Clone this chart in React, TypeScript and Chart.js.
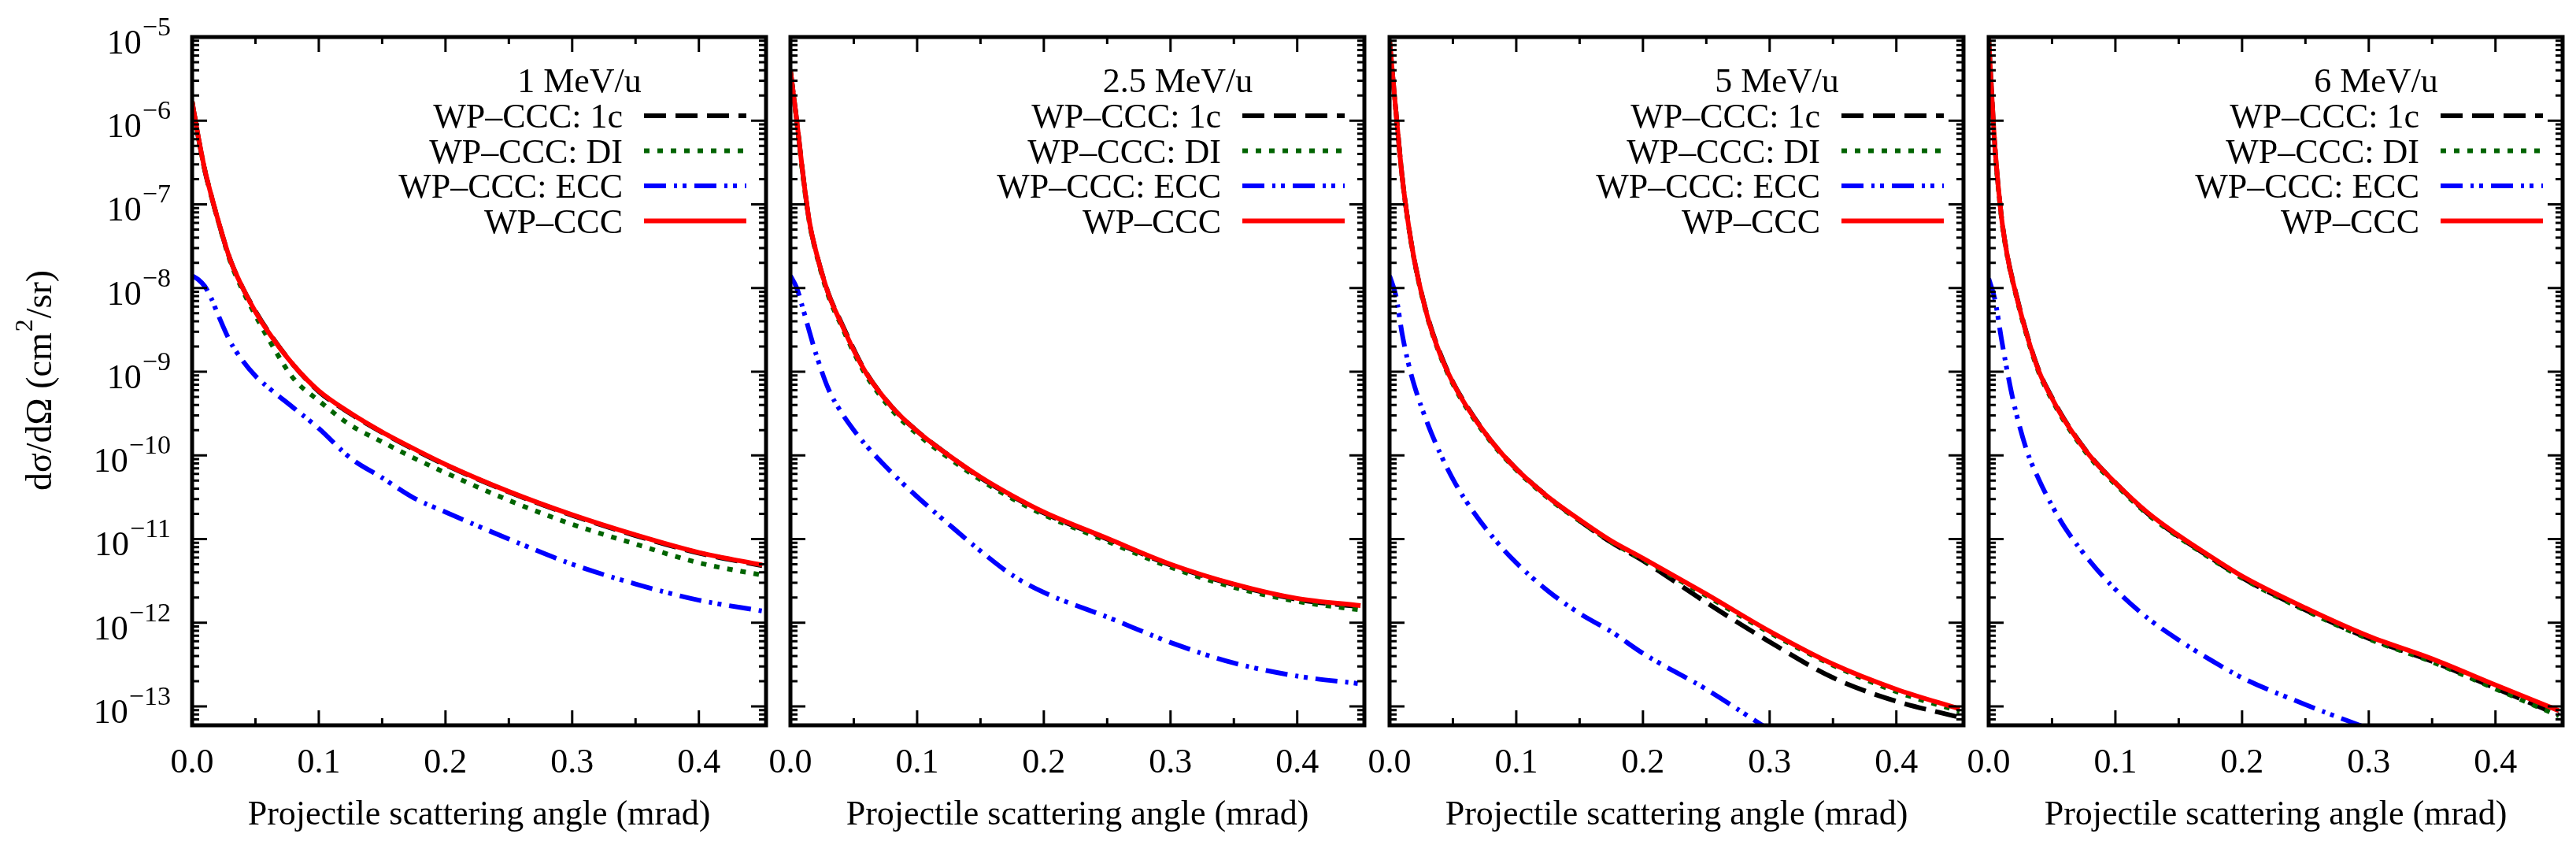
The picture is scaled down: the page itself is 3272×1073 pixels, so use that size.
import React, { useEffect, useRef } from 'react';
import { Chart, registerables } from 'chart.js';
import type { Plugin } from 'chart.js';

Chart.register(...registerables);

const angles = [0, 0.005, 0.01, 0.015, 0.02, 0.03, 0.04, 0.05, 0.06, 0.08, 0.1, 0.125, 0.15, 0.175, 0.2, 0.25, 0.3, 0.35, 0.4, 0.45];

const energies = ['1 MeV/u', '2.5 MeV/u', '5 MeV/u', '6 MeV/u'];
const seriesNames = ['WP\u2013CCC: 1c', 'WP\u2013CCC: DI', 'WP\u2013CCC: ECC', 'WP\u2013CCC'];

const xTicks = [0, 0.1, 0.2, 0.3, 0.4];
const xTickLabels = ['0.0', '0.1', '0.2', '0.3', '0.4'];
const yExponents = [-5, -6, -7, -8, -9, -10, -11, -12, -13];

// 1 MeV/u
const oneC1 = [1.7e-6, 6.2e-7, 2.55e-7, 1.28e-7, 6.8e-8, 2.2e-8, 1.0e-8, 5.3e-9, 3.05e-9, 1.2e-9, 5.8e-10, 3.15e-10, 1.88e-10, 1.18e-10, 7.7e-11, 3.65e-11, 1.92e-11, 1.1e-11, 6.8e-12, 4.8e-12];
const di1 = [1.7e-6, 6.2e-7, 2.6e-7, 1.3e-7, 6.8e-8, 2.1e-8, 9.3e-9, 4.7e-9, 2.5e-9, 8.3e-10, 4.5e-10, 2.3e-10, 1.45e-10, 9.3e-11, 6.2e-11, 2.9e-11, 1.5e-11, 8.7e-12, 5.2e-12, 3.7e-12];
const ecc1 = [1.4e-8, 1.26e-8, 1.05e-8, 7.6e-9, 5.0e-9, 2.3e-9, 1.35e-9, 8.9e-10, 6.5e-10, 3.7e-10, 2.1e-10, 9.3e-11, 5.4e-11, 3.1e-11, 2.1e-11, 1.0e-11, 5.0e-12, 2.9e-12, 1.86e-12, 1.38e-12];
const total1 = [1.7e-6, 6.3e-7, 2.6e-7, 1.3e-7, 6.9e-8, 2.2e-8, 1.0e-8, 5.2e-9, 3.0e-9, 1.2e-9, 5.9e-10, 3.2e-10, 1.9e-10, 1.2e-10, 7.8e-11, 3.7e-11, 1.95e-11, 1.12e-11, 6.9e-12, 4.9e-12];

// 2.5 MeV/u
const oneC2 = [4.0e-6, 1.0e-6, 2.2e-7, 6.1e-8, 2.8e-8, 8.6e-9, 3.9e-9, 1.85e-9, 9.6e-10, 3.8e-10, 1.95e-10, 1.0e-10, 5.4e-11, 3.25e-11, 2.05e-11, 1.0e-11, 4.9e-12, 2.85e-12, 1.9e-12, 1.55e-12];
const di2 = [4.0e-6, 9.8e-7, 2.1e-7, 6.0e-8, 2.7e-8, 8.0e-9, 3.6e-9, 1.7e-9, 8.9e-10, 3.5e-10, 1.8e-10, 9.3e-11, 5.1e-11, 3.05e-11, 1.95e-11, 9.4e-12, 4.6e-12, 2.65e-12, 1.8e-12, 1.42e-12];
const ecc2 = [1.4e-8, 1.0e-8, 5.6e-9, 3.0e-9, 1.66e-9, 6.2e-10, 3.3e-10, 2.0e-10, 1.3e-10, 6.2e-11, 3.2e-11, 1.5e-11, 7.2e-12, 3.7e-12, 2.3e-12, 1.17e-12, 5.8e-13, 3.3e-13, 2.3e-13, 1.86e-13];
const total2 = [4.0e-6, 1.0e-6, 2.2e-7, 6.2e-8, 2.8e-8, 8.5e-9, 3.8e-9, 1.8e-9, 9.5e-10, 3.8e-10, 1.95e-10, 1.0e-10, 5.5e-11, 3.3e-11, 2.1e-11, 1.02e-11, 5.0e-12, 2.9e-12, 1.95e-12, 1.6e-12];

// 5 MeV/u
const oneC3 = [9.0e-6, 1.3e-6, 2.1e-7, 5.6e-8, 2.0e-8, 4.6e-9, 1.65e-9, 7.5e-10, 4.1e-10, 1.5e-10, 6.9e-11, 3.2e-11, 1.65e-11, 9.1e-12, 5.5e-12, 1.74e-12, 5.9e-13, 2.2e-13, 1.15e-13, 7.4e-14];
const di3 = [9.0e-6, 1.3e-6, 2.1e-7, 5.5e-8, 1.95e-8, 4.4e-9, 1.55e-9, 7.1e-10, 3.85e-10, 1.45e-10, 6.7e-11, 3.1e-11, 1.65e-11, 9.2e-12, 5.7e-12, 2.1e-12, 7.6e-13, 3.1e-13, 1.5e-13, 8.7e-14];
const ecc3 = [1.4e-8, 8.1e-9, 2.8e-9, 1.23e-9, 6.5e-10, 2.4e-10, 1.05e-10, 5.2e-11, 2.9e-11, 1.12e-11, 5.2e-12, 2.4e-12, 1.29e-12, 7.8e-13, 4.3e-13, 1.6e-13, 5.2e-14];
const total3 = [9.0e-6, 1.3e-6, 2.1e-7, 5.6e-8, 2.0e-8, 4.5e-9, 1.6e-9, 7.4e-10, 4.0e-10, 1.5e-10, 6.9e-11, 3.2e-11, 1.7e-11, 9.5e-12, 5.9e-12, 2.2e-12, 7.9e-13, 3.2e-13, 1.6e-13, 9.3e-14];

// 6 MeV/u
const oneC4 = [9.5e-6, 4.7e-7, 7.3e-8, 2.35e-8, 1.07e-8, 2.85e-9, 1.0e-9, 4.9e-10, 2.65e-10, 9.9e-11, 4.7e-11, 2.05e-11, 1.07e-11, 6.0e-12, 3.45e-12, 1.42e-12, 6.5e-13, 3.45e-13, 1.65e-13, 7.9e-14];
const di4 = [9.5e-6, 4.6e-7, 7.0e-8, 2.25e-8, 1.02e-8, 2.7e-9, 9.4e-10, 4.6e-10, 2.5e-10, 9.4e-11, 4.5e-11, 2.0e-11, 1.05e-11, 5.9e-12, 3.4e-12, 1.4e-12, 6.4e-13, 3.4e-13, 1.62e-13, 7.7e-14];
const ecc4 = [1.3e-8, 7.2e-9, 2.5e-9, 9.5e-10, 4.1e-10, 1.15e-10, 5.0e-11, 2.5e-11, 1.38e-11, 5.4e-12, 2.5e-12, 1.15e-12, 6.2e-13, 3.6e-13, 2.2e-13, 1.05e-13, 5.4e-14];
const total4 = [9.5e-6, 4.7e-7, 7.2e-8, 2.3e-8, 1.05e-8, 2.8e-9, 9.8e-10, 4.8e-10, 2.6e-10, 9.8e-11, 4.7e-11, 2.1e-11, 1.1e-11, 6.2e-12, 3.6e-12, 1.5e-12, 6.9e-13, 3.7e-13, 1.8e-13, 8.9e-14];

const panelSeries = [
  [oneC1, di1, ecc1, total1],
  [oneC2, di2, ecc2, total2],
  [oneC3, di3, ecc3, total3],
  [oneC4, di4, ecc4, total4],
];

// line styles, same order as seriesNames (lower order is drawn on top)
const seriesStyle = [
  { color: '#000000', dash: [28, 12], order: 2 },
  { color: '#006400', dash: [7, 10], order: 1 },
  { color: '#0000ff', dash: [28, 10, 4, 7, 5, 10], order: 3 },
  { color: '#ff0000', dash: [] as number[], order: 0 },
];

// page layout (px)
const PAGE_W = 3272;
const PAGE_H = 1073;
const PLOT_TOP = 47;
const PLOT_BOTTOM = 921;
const PLOT_W = 729;
const PANEL_LEFTS = [244, 1004, 1765, 2526];
const X_MAX = 0.453;
const Y_MIN = 5.94e-14;
const Y_MAX = 1e-5;
const FONT = '"Liberation Serif", "Times New Roman", serif';
const MAJOR = 19;
const MINOR = 9;

const decoratePlugin = (panel: number): Plugin<'line'> => ({
  id: 'decorate' + panel,
  afterDraw: (chart) => {
    const { ctx, chartArea: a } = chart;
    const xs = chart.scales.x;
    const ys = chart.scales.y;

    ctx.save();
    ctx.setLineDash([]);
    ctx.strokeStyle = '#000';
    ctx.fillStyle = '#000';

    // inward ticks on all four sides
    ctx.lineWidth = 3;
    ctx.beginPath();
    const xTick = (v: number, len: number) => {
      const px = xs.getPixelForValue(v);
      ctx.moveTo(px, a.bottom); ctx.lineTo(px, a.bottom - len);
      ctx.moveTo(px, a.top); ctx.lineTo(px, a.top + len);
    };
    const yTick = (v: number, len: number) => {
      const py = ys.getPixelForValue(v);
      ctx.moveTo(a.left, py); ctx.lineTo(a.left + len, py);
      ctx.moveTo(a.right, py); ctx.lineTo(a.right - len, py);
    };
    xTicks.forEach(v => xTick(v, MAJOR));
    xTicks.map(v => v + 0.05).filter(v => v < X_MAX - 0.005).forEach(v => xTick(v, MINOR));
    [...yExponents, -14].forEach(e => {
      const base = Math.pow(10, e);
      if (base >= Y_MIN && base <= Y_MAX) yTick(base, MAJOR);
      for (let m = 2; m <= 9; m++) {
        const v = m * base;
        if (v > Y_MIN && v < Y_MAX) yTick(v, MINOR);
      }
    });
    ctx.stroke();

    // frame
    ctx.lineWidth = 5;
    ctx.strokeRect(a.left, a.top, a.right - a.left, a.bottom - a.top);

    // x tick labels and title
    ctx.font = `44px ${FONT}`;
    ctx.textAlign = 'center';
    ctx.textBaseline = 'alphabetic';
    xTicks.forEach((v, i) => ctx.fillText(xTickLabels[i], xs.getPixelForValue(v), 981));
    ctx.fillText('Projectile scattering angle (mrad)', (a.left + a.right) / 2, 1047);

    if (panel === 0) {
      // y tick labels 10^n
      yExponents.forEach(e => {
        const py = ys.getPixelForValue(Math.pow(10, e));
        const sup = '\u2212' + Math.abs(e);
        ctx.textAlign = 'right';
        ctx.font = `34px ${FONT}`;
        const supRight = a.left - 27;
        ctx.fillText(sup, supRight, py - 2);
        const supW = ctx.measureText(sup).width;
        ctx.font = `44px ${FONT}`;
        ctx.fillText('10', supRight - supW - 1, py + 21);
      });

      // y axis title
      ctx.save();
      ctx.translate(65, (a.top + a.bottom) / 2);
      ctx.rotate(-Math.PI / 2);
      ctx.textAlign = 'left';
      const big = `46px ${FONT}`;
      const small = `32px ${FONT}`;
      const p1 = 'd\u03c3/d\u03a9 (cm';
      const p2 = '2';
      const p3 = '/sr)';
      ctx.font = big;
      const w1 = ctx.measureText(p1).width;
      const w3 = ctx.measureText(p3).width;
      ctx.font = small;
      const w2 = ctx.measureText(p2).width;
      let x = -(w1 + w2 + w3) / 2;
      ctx.font = big; ctx.fillText(p1, x, 0); x += w1;
      ctx.font = small; ctx.fillText(p2, x + 1, -24); x += w2 + 2;
      ctx.font = big; ctx.fillText(p3, x, 0);
      ctx.restore();
    }

    // legend
    ctx.font = `44px ${FONT}`;
    ctx.textAlign = 'center';
    ctx.fillText(energies[panel], a.left + 492, 117);
    ctx.textAlign = 'right';
    seriesNames.forEach((name, s) => {
      const base = 162 + 44.5 * s;
      ctx.fillStyle = '#000';
      ctx.fillText(name, a.left + 547, base);
      ctx.strokeStyle = seriesStyle[s].color;
      ctx.lineWidth = 6;
      ctx.setLineDash(seriesStyle[s].dash);
      ctx.beginPath();
      ctx.moveTo(a.left + 574, base - 15);
      ctx.lineTo(a.left + 704, base - 15);
      ctx.stroke();
    });

    ctx.restore();
  },
});

const Panel: React.FC<{ panel: number }> = ({ panel }) => {
  const canvasRef = useRef<HTMLCanvasElement>(null);
  const left = PANEL_LEFTS[panel];
  const colStart = panel === 0 ? 0 : left - 40;
  const colEnd = Math.min(PAGE_W, left + PLOT_W + 40);
  const width = colEnd - colStart;

  useEffect(() => {
    if (!canvasRef.current) return;
    const datasets = panelSeries[panel].map((vals, s) => ({
      label: seriesNames[s],
      data: vals.map((v, i) => ({ x: angles[i], y: v })),
      borderColor: seriesStyle[s].color,
      borderDash: seriesStyle[s].dash,
      borderWidth: 6,
      pointRadius: 0,
      fill: false,
      cubicInterpolationMode: 'monotone' as const,
      order: seriesStyle[s].order,
    }));

    const chart = new Chart(canvasRef.current, {
      type: 'line',
      data: { datasets },
      options: {
        animation: false,
        responsive: false,
        maintainAspectRatio: false,
        layout: {
          padding: {
            left: left - colStart,
            right: colEnd - (left + PLOT_W),
            top: PLOT_TOP,
            bottom: PAGE_H - PLOT_BOTTOM,
          },
        },
        plugins: { legend: { display: false }, tooltip: { enabled: false } },
        scales: {
          x: { type: 'linear', min: 0, max: X_MAX, display: false },
          y: { type: 'logarithmic', min: Y_MIN, max: Y_MAX, display: false },
        },
      },
      plugins: [decoratePlugin(panel)],
    });

    return () => chart.destroy();
  }, [panel]);

  return (
    <canvas
      ref={canvasRef}
      width={width}
      height={PAGE_H}
      style={{ position: 'absolute', left: colStart, top: 0, width, height: PAGE_H }}
    />
  );
};

export default function App() {
  return (
    <div style={{ position: 'absolute', left: 0, top: 0, width: PAGE_W, height: PAGE_H, background: '#fff' }}>
      {PANEL_LEFTS.map((_, i) => <Panel key={i} panel={i} />)}
    </div>
  );
}
